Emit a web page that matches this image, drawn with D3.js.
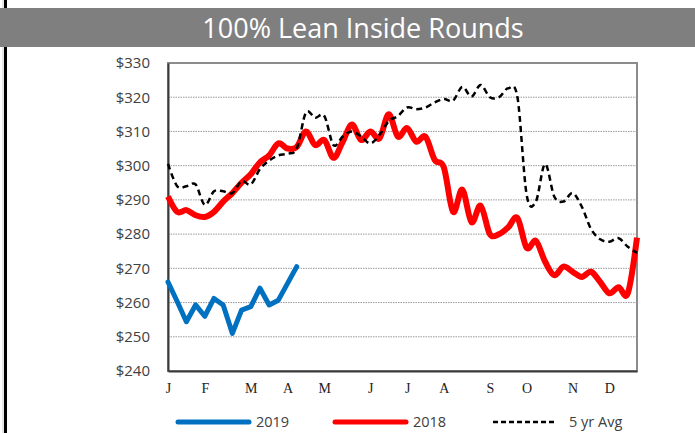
<!DOCTYPE html>
<html>
<head>
<meta charset="utf-8">
<script src="https://cdn.jsdelivr.net/npm/d3@7"></script>
<style>
  body { margin: 0; background: #fff; }
  svg { display: block; }
</style>
</head>
<body>
<div id="chart"></div>
<script>
// weekly prices, $/cwt
const monthLabels = ['J', 'F', 'M', 'A', 'M', 'J', 'J', 'A', 'S', 'O', 'N', 'D']
const monthWeeks = [0, 4, 9, 13, 17, 22, 26, 30, 35, 39, 44, 48]
const yTicks = [240, 250, 260, 270, 280, 290, 300, 310, 320, 330]

const series2019 = [266, 260.3, 254.4, 259.3, 256, 261.2, 259.3, 251, 257.8, 258.8,
	264.2, 259.3, 260.7, 265.6, 270.5]

const series2018 = [291, 286.5, 287, 285.5, 285, 286.5, 289.5, 292, 295, 297.5,
	301, 303, 306.5, 305, 305.5, 310, 306, 307.5, 302.3, 307,
	312, 307.5, 310, 308, 315, 308.5, 311, 307, 308.5, 301.7,
	299.5, 286.5, 293, 283.5, 288.3, 280, 280, 282, 284.7, 276,
	278, 272, 268, 270.5, 269, 267.5, 269, 266, 262.7, 264.5,
	262.7, 279]

const avg5yr = [300.5, 294, 294, 294.5, 288.5, 292.5, 292.5, 292, 295.5, 294.5,
	299, 301.5, 303, 303.5, 305, 315.5, 314, 314.5, 306, 308.5,
	310, 308.5, 306.5, 309, 313, 314.5, 317, 316.5, 317, 318.5,
	319.5, 319, 323, 320.2, 323.6, 320, 320, 322.6, 320, 291.5,
	289.5, 300.5, 291, 289.5, 292, 288, 281.5, 278.5, 277.8, 278.8,
	276.3, 274.5]

const W = 695, H = 433
const margin = { top: 63, right: 58, bottom: 62, left: 168 }
const width = W - margin.left - margin.right
const height = H - margin.top - margin.bottom

const svg = d3.select('#chart').append('svg')
	.attr('width', W)
	.attr('height', H)

// left page border + title band
svg.append('rect').attr('x', 2.5).attr('y', 0).attr('width', 1).attr('height', H).attr('fill', '#ccc')
svg.append('rect').attr('x', 4).attr('y', 0).attr('width', 3).attr('height', H).attr('fill', '#000')
svg.append('rect').attr('x', 0).attr('y', 8).attr('width', W).attr('height', 39).attr('fill', '#7f7f7f')
svg.append('text')
	.attr('x', 363).attr('y', 38)
	.attr('text-anchor', 'middle')
	.attr('fill', '#fff')
	.style('font-family', 'Open Sans, sans-serif')
	.style('font-size', '27px')
	.text('100% Lean Inside Rounds')

const x = d3.scaleLinear().domain([0, 51]).range([0, width])
const y = d3.scaleLinear().domain([240, 330]).range([height, 0])

const g = svg.append('g')
	.attr('transform', 'translate(' + margin.left + ',' + margin.top + ')')

// grid
g.append('g')
	.selectAll('line')
	.data(yTicks.filter(d => d > 240 && d < 330))
	.enter().append('line')
	.attr('x1', 0).attr('x2', width)
	.attr('y1', d => y(d)).attr('y2', d => y(d))
	.attr('stroke', '#9a9a9a')
	.attr('stroke-width', 1)
	.attr('stroke-dasharray', '1.5,1')

// frame: gray top/right, dark left/bottom
g.append('rect')
	.attr('x', 0).attr('y', 0).attr('width', width).attr('height', height)
	.attr('fill', 'none').attr('stroke', '#8c8c8c').attr('stroke-width', 2)

const yAxis = g.append('g')
	.call(d3.axisLeft(y).tickValues(yTicks).tickSize(0).tickPadding(18).tickFormat(d => '$' + d))
yAxis.select('.domain').attr('stroke', '#3a3a3a').attr('stroke-width', 2)
yAxis.selectAll('text')
	.attr('fill', '#404040')
	.style('font-family', 'Open Sans, sans-serif')
	.style('font-size', '15px')

const xAxis = g.append('g')
	.attr('transform', 'translate(0,' + height + ')')
	.call(d3.axisBottom(x).tickValues(monthWeeks).tickSize(0).tickPadding(12)
		.tickFormat((d, i) => monthLabels[i]))
xAxis.select('.domain').attr('stroke', '#3a3a3a').attr('stroke-width', 2)
xAxis.selectAll('text')
	.attr('fill', '#222')
	.style('font-family', 'Liberation Serif, serif')
	.style('font-size', '14px')

// lines
const smooth = d3.line()
	.x((d, i) => x(i))
	.y(d => y(d))
	.curve(d3.curveCardinal)

const straight = d3.line()
	.x((d, i) => x(i))
	.y(d => y(d))

g.append('path')
	.datum(series2018)
	.attr('d', smooth)
	.attr('fill', 'none')
	.attr('stroke', '#ff0000')
	.attr('stroke-width', 6)
	.attr('stroke-linejoin', 'round')

g.append('path')
	.datum(series2019)
	.attr('d', straight)
	.attr('fill', 'none')
	.attr('stroke', '#0070c0')
	.attr('stroke-width', 5)
	.attr('stroke-linejoin', 'round')
	.attr('stroke-linecap', 'round')

g.append('path')
	.datum(avg5yr)
	.attr('d', smooth)
	.attr('fill', 'none')
	.attr('stroke', '#000')
	.attr('stroke-width', 2.5)
	.attr('stroke-dasharray', '6,4')

// legend
const legendItems = [
	{ name: '2019', color: '#0070c0', w: 5, dash: null, x1: 178, x2: 249 },
	{ name: '2018', color: '#ff0000', w: 5, dash: null, x1: 335, x2: 406 },
	{ name: '5 yr Avg', color: '#000', w: 2.5, dash: '5,3', x1: 493, x2: 554 }
]
const legend = svg.append('g')
legendItems.forEach(it => {
	legend.append('line')
		.attr('x1', it.x1).attr('x2', it.x2)
		.attr('y1', 422).attr('y2', 422)
		.attr('stroke', it.color)
		.attr('stroke-width', it.w)
		.attr('stroke-linecap', it.dash ? 'butt' : 'round')
		.attr('stroke-dasharray', it.dash)
	legend.append('text')
		.attr('x', it.x2 + (it.dash ? 15 : 7)).attr('y', 427)
		.attr('fill', '#404040')
		.style('font-family', 'Open Sans, sans-serif')
		.style('font-size', '14.5px')
		.text(it.name)
})
</script>
</body>
</html>
